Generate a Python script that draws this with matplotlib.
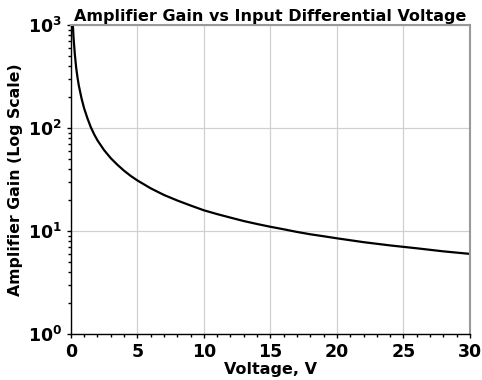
import matplotlib
matplotlib.use('Agg')
import matplotlib.pyplot as plt
from matplotlib.ticker import MultipleLocator

# values
voltage = [0.15, 0.2, 0.3, 0.4, 0.5, 0.6, 0.8, 1.0, 1.25, 1.5, 1.75, 2.0, 2.5,
           3.0, 3.5, 4.0, 4.5, 5.0, 6.0, 7.0, 8.0, 9.0, 10.0, 11.0, 12.0, 13.0,
           14.0, 15.0, 16.0, 17.0, 18.0, 19.0, 20.0, 22.0, 24.0, 26.0, 28.0, 30.0]
gain = [1000, 760, 520, 385, 310, 258, 195, 155, 124, 102, 87, 76, 61,
        51, 44, 38.5, 34.3, 31, 26, 22.4, 19.8, 17.7, 15.9, 14.6, 13.5, 12.5,
        11.7, 11.0, 10.4, 9.8, 9.3, 8.9, 8.5, 7.8, 7.25, 6.8, 6.35, 6.0]

x_ticks = [0, 5, 10, 15, 20, 25, 30]

plt.rcParams['font.family'] = 'DejaVu Sans'
plt.rcParams['font.weight'] = 'bold'

fig = plt.figure(figsize=(4.82, 3.80), dpi=100)
ax = fig.add_axes([0.147, 0.121, 0.828, 0.813])

ax.plot(voltage, gain, color='black', lw=1.6)
ax.set_yscale('log')
ax.set_xlim(0, 30)
ax.set_ylim(1, 1000)
ax.set_xticks(x_ticks)
ax.xaxis.set_minor_locator(MultipleLocator(1))

ax.grid(True, which='major', color='#d0d0d0', lw=0.9)
ax.set_axisbelow(True)

ax.tick_params(which='major', labelsize=12.5, length=3, width=1)
ax.tick_params(which='minor', length=2, width=1)
for lbl in ax.get_xticklabels() + ax.get_yticklabels():
    lbl.set_fontweight('bold')

for s in ['left', 'bottom']:
    ax.spines[s].set_color('black')
    ax.spines[s].set_linewidth(1.0)
for s in ['top', 'right']:
    ax.spines[s].set_color('#999999')
    ax.spines[s].set_linewidth(1.5)

ax.set_title('Amplifier Gain vs Input Differential Voltage', fontsize=11.5, fontweight='bold', pad=3)
ax.set_xlabel('Voltage, V', fontsize=11.5, fontweight='bold', labelpad=1)
ax.set_ylabel('Amplifier Gain (Log Scale)', fontsize=11.3, fontweight='bold', labelpad=3)

fig.savefig('out.png', dpi=100)
